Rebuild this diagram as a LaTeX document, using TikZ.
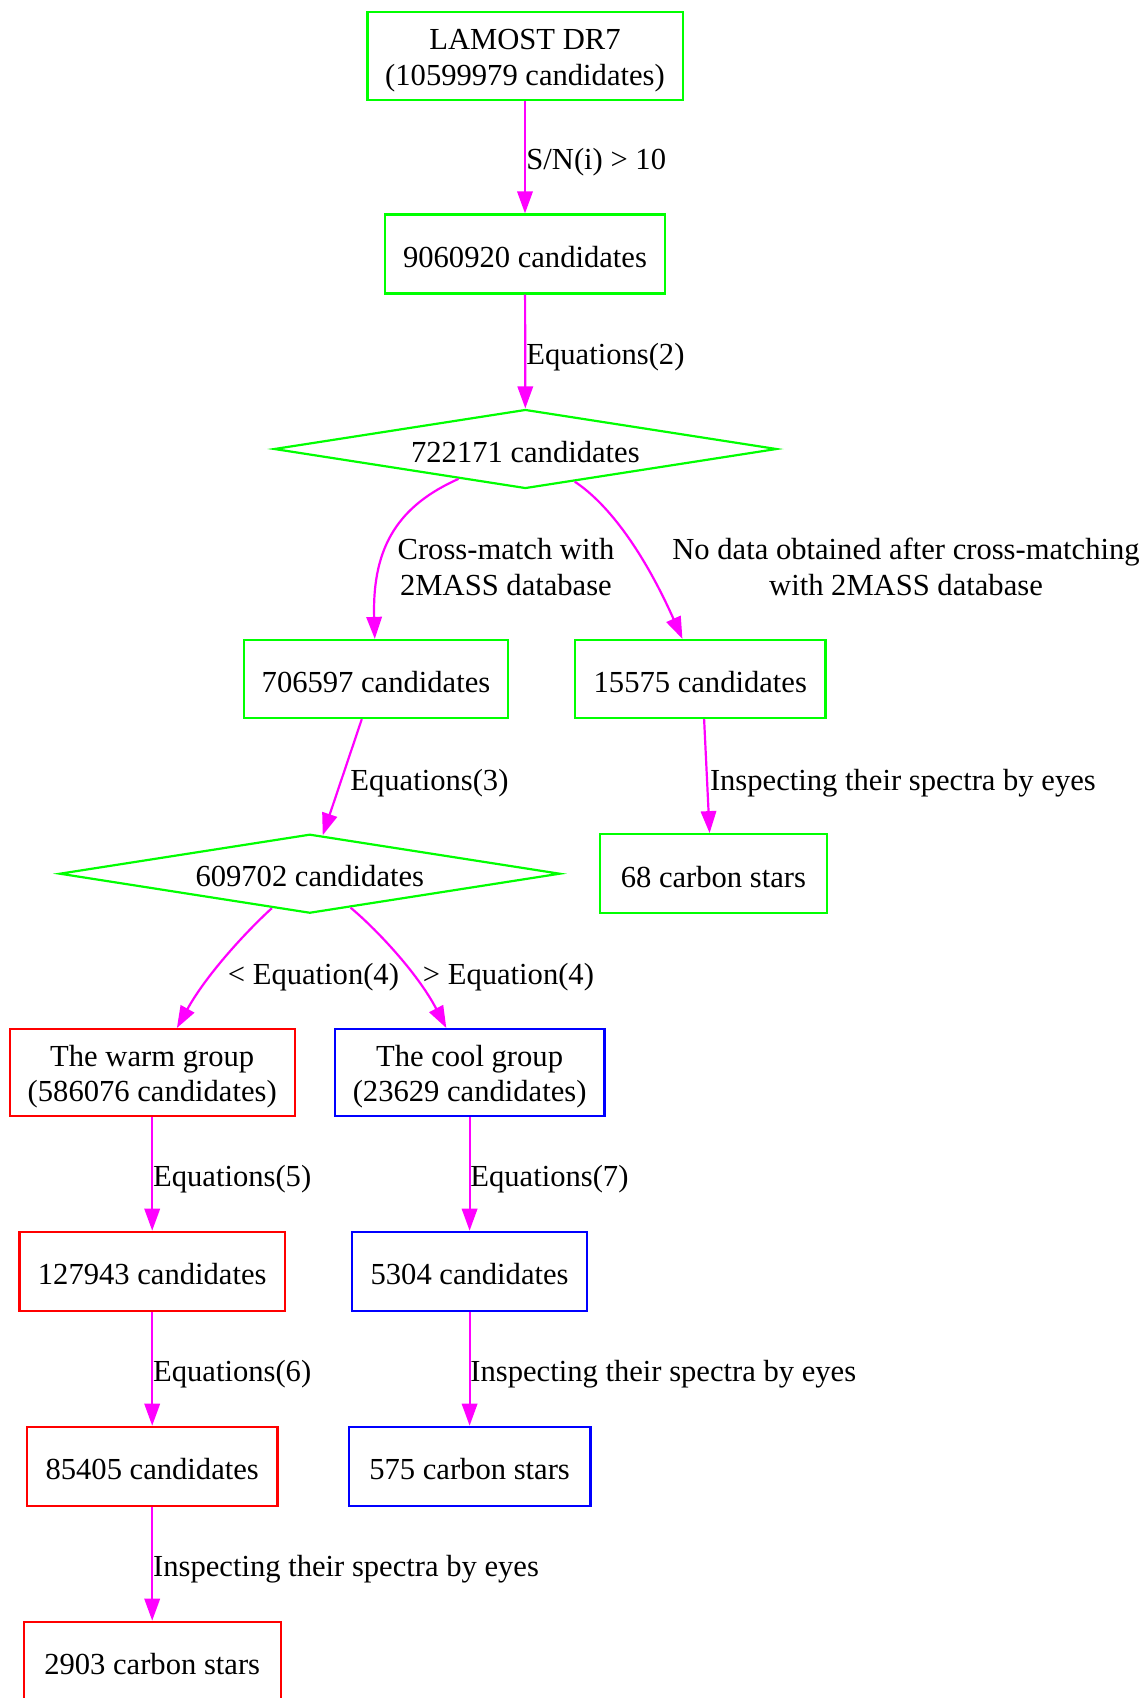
\documentclass[tikz,border=0pt]{standalone}
\usepackage{fontspec}
\setmainfont{Liberation Serif}
\usetikzlibrary{arrows.meta,shapes.geometric}
\definecolor{gr}{RGB}{0,255,0}
\definecolor{rd}{RGB}{255,0,0}
\definecolor{bl}{RGB}{0,0,255}
\definecolor{mag}{RGB}{255,0,255}
\newcommand\shiftdn[2]{\raisebox{-#1}[\height][\depth]{#2}}
\newcommand\twolines[2]{\shiftdn{2.2pt}{\begin{tabular}{@{}c@{}}#1\\#2\end{tabular}}}
\begin{document}
\begin{tikzpicture}[x=0.5pt,y=-0.5pt,
  every node/.style={font=\fontsize{15.3}{17.9}\selectfont},
  box/.style={draw,rectangle,line width=1.1pt,inner sep=0pt,minimum height=39.5pt,align=center},
  dia/.style={draw,diamond,shape aspect=6.4,line width=1.1pt,inner sep=0pt,minimum height=39.5pt},
  conn/.style={draw=mag,line width=1.1pt,-{Triangle[length=11pt,width=7.7pt]}},
  lbl/.style={inner sep=0pt,align=center}]
\useasboundingbox (0,0) rectangle (1144,1698);
% nodes
\node[box,gr,text=black,minimum width=157.6pt,minimum height=44pt] (n1) at (525,55.8) {\twolines{LAMOST DR7}{(10599979 candidates)}};
\node[box,gr,text=black,minimum width=140.3pt] (n2) at (525,254) {\shiftdn{1.6pt}{9060920 candidates}};
\node[dia,gr,text=black,minimum width=251.4pt] (d1) at (525.4,449) {\shiftdn{1.3pt}{722171 candidates}};
\node[box,gr,text=black,minimum width=132.2pt,minimum height=39pt] (n4) at (376,679) {\shiftdn{1.6pt}{706597 candidates}};
\node[box,gr,text=black,minimum width=125.2pt,minimum height=39pt] (n5) at (700.3,679) {\shiftdn{1.6pt}{15575 candidates}};
\node[dia,gr,text=black,minimum width=250.3pt] (d2) at (309.8,873.7) {\shiftdn{1.3pt}{609702 candidates}};
\node[box,gr,text=black,minimum width=113.2pt] (n7) at (713.4,873.7) {\shiftdn{1.6pt}{68 carbon stars}};
\node[box,rd,text=black,minimum width=142.5pt,minimum height=43.4pt] (warm) at (152.2,1072.5) {\twolines{The warm group}{(586076 candidates)}};
\node[box,bl,text=black,minimum width=134.9pt,minimum height=43.4pt] (cool) at (469.6,1072.5) {\twolines{The cool group}{(23629 candidates)}};
\node[box,rd,text=black,minimum width=132.7pt] (n10) at (152.2,1271.3) {\shiftdn{1.6pt}{127943 candidates}};
\node[box,bl,text=black,minimum width=117.5pt] (n11) at (469.6,1271.3) {\shiftdn{1.6pt}{5304 candidates}};
\node[box,rd,text=black,minimum width=125.2pt] (n12) at (152.2,1466.3) {\shiftdn{1.6pt}{85405 candidates}};
\node[box,bl,text=black,minimum width=120.8pt] (n13) at (469.6,1466.3) {\shiftdn{1.6pt}{575 carbon stars}};
\node[box,rd,text=black,minimum width=128.4pt] (n14) at (152.2,1661.3) {\shiftdn{1.6pt}{2903 carbon stars}};
% connectors
\draw[conn] (n1) -- (n2);
\draw[conn] (n2) -- (d1);
\draw[conn] (d1) .. controls (400,505) and (372,545) .. (n4);
\draw[conn] (d1) .. controls (610,505) and (645,555) .. (n5);
\draw[conn] ([xshift=-7.1pt]n4.south) -- (d2);
\draw[conn] ([xshift=1.9pt]n5.south) -- ([xshift=-1.9pt]n7.north);
\draw[conn] (d2) .. controls (250,928) and (208,972) .. (warm);
\draw[conn] (d2) .. controls (375,928) and (417,972) .. (cool);
\draw[conn] (warm) -- (n10);
\draw[conn] (cool) -- (n11);
\draw[conn] (n10) -- (n12);
\draw[conn] (n11) -- (n13);
\draw[conn] (n12) -- (n14);
% labels
\node[lbl,anchor=west] (l1) at (526,162) {S/N(i) > 10};
\node[lbl,anchor=west] (l2) at (526,357) {Equations(2)};
\node[lbl] (l3) at (506,567) {Cross-match with\\2MASS database};
\node[lbl] (l4) at (906,567) {No data obtained after cross-matching\\with 2MASS database};
\node[lbl,anchor=west] (l5) at (350,783) {Equations(3)};
\node[lbl,anchor=west] (l6) at (709.6,783) {Inspecting their spectra by eyes};
\node[lbl,anchor=west] (l7) at (227.5,977) {< Equation(4)};
\node[lbl,anchor=west] (l8) at (422.5,977) {> Equation(4)};
\node[lbl,anchor=west] (l9) at (152.75,1179.5) {Equations(5)};
\node[lbl,anchor=west] (l10) at (470,1179.5) {Equations(7)};
\node[lbl,anchor=west] (l11) at (152.75,1374.5) {Equations(6)};
\node[lbl,anchor=west] (l12) at (470,1374.5) {Inspecting their spectra by eyes};
\node[lbl,anchor=west] (l13) at (152.75,1569.5) {Inspecting their spectra by eyes};
\end{tikzpicture}
\end{document}
